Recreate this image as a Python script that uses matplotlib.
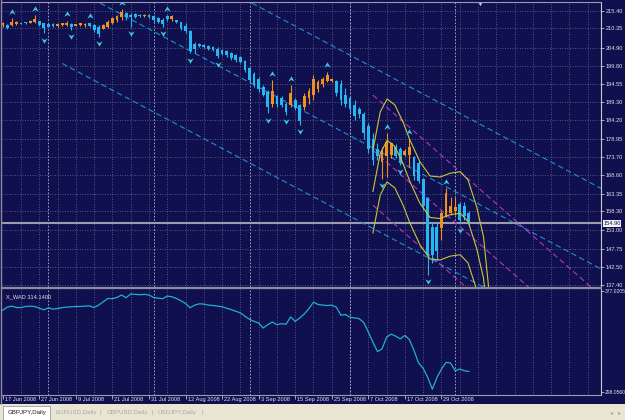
import numpy as np
import matplotlib.pyplot as plt
import matplotlib.transforms as mtransforms
from matplotlib.lines import Line2D
from matplotlib.patches import Rectangle
from matplotlib.path import Path

plt.rcParams['font.family'] = ['Liberation Sans', 'DejaVu Sans']

# GBPJPY daily, bar 0 = 17 Jun 2008
opens = [211.2, 211.4, 211.4, 211.6, 211.9, 212.0, 212.0, 212.3, 212.4, 211.8,
         211.6, 211.6, 211.1, 211.3, 211.4, 211.6, 211.1, 211.2, 211.2, 211.8,
         211.4, 210.8, 210.3, 210.9, 212.0, 212.8, 213.5, 214.8, 214.2, 214.4,
         214.3, 213.9, 214.3, 213.9, 213.4, 212.8, 213.8, 212.9, 212.7, 212.1,
         211.0, 209.5, 206.0, 206.0, 205.6, 205.3, 205.1, 204.6, 204.1, 203.9,
         203.4, 202.8, 202.2, 201.0, 199.0, 197.5, 196.0, 193.8, 192.3, 188.8,
         191.0, 190.6, 189.0, 188.6, 190.0, 188.5, 188.0, 190.5, 191.5, 193.0,
         194.5, 195.5, 195.5, 195.5, 194.5, 191.5, 190.5, 188.5, 187.5, 186.0,
         182.5, 179.0, 176.0, 172.5, 174.0, 174.5, 176.7, 176.0, 174.5, 174.5,
         173.9, 172.0, 167.5, 162.0, 154.0, 154.0, 153.5, 157.0, 158.0, 158.5,
         160.5, 160.0, 158.0]
highs = [212.3, 211.6, 213.2, 212.6, 212.0, 212.3, 212.8, 214.2, 212.6, 212.0,
         211.8, 211.8, 211.8, 212.0, 212.6, 211.8, 211.6, 212.0, 212.0, 212.0,
         211.6, 211.3, 211.6, 212.8, 213.7, 214.2, 215.8, 215.1, 214.6, 214.6,
         214.5, 214.5, 214.5, 214.2, 213.7, 213.2, 214.2, 214.2, 212.8, 212.3,
         211.8, 209.9, 206.6, 206.3, 205.9, 205.6, 205.4, 205.0, 204.4, 204.2,
         203.7, 203.1, 202.5, 201.4, 199.5, 198.0, 196.6, 194.3, 192.8, 195.7,
         191.4, 191.0, 189.5, 194.3, 190.5, 189.0, 191.9, 193.3, 197.1, 195.7,
         196.6, 198.1, 196.4, 195.7, 195.7, 193.3, 191.0, 190.0, 188.1, 186.7,
         183.4, 180.5, 177.7, 176.7, 180.5, 178.0, 177.5, 176.7, 176.0, 179.0,
         174.0, 172.9, 167.7, 162.5, 155.0, 155.0, 158.5, 164.9, 162.5, 162.5,
         161.1, 161.0, 158.5]
lows = [210.9, 210.1, 211.0, 211.3, 211.6, 211.6, 211.8, 212.0, 211.0, 209.0,
        210.7, 210.9, 210.9, 211.0, 211.0, 210.0, 211.0, 211.0, 210.9, 210.9,
        209.4, 208.0, 210.1, 210.4, 211.6, 212.3, 212.8, 212.8, 210.9, 213.2,
        213.7, 213.7, 213.2, 212.3, 211.8, 210.9, 212.6, 212.6, 212.0, 209.9,
        209.0, 203.3, 203.3, 205.2, 204.7, 204.2, 204.0, 201.9, 202.8, 202.3,
        201.4, 200.9, 200.4, 198.1, 195.2, 193.8, 192.4, 191.0, 186.2, 188.1,
        188.1, 188.1, 185.7, 188.1, 187.2, 182.9, 187.2, 189.0, 190.0, 192.4,
        193.8, 195.2, 195.2, 191.0, 188.6, 188.1, 186.2, 184.3, 184.8, 179.0,
        174.8, 171.5, 172.9, 167.5, 168.2, 173.5, 173.5, 171.5, 174.0, 171.0,
        167.3, 166.3, 158.7, 140.2, 143.6, 144.5, 150.2, 156.8, 157.3, 157.3,
        154.9, 156.0, 154.5]
closes = [212.0, 210.6, 212.3, 212.2, 211.7, 211.8, 212.4, 213.0, 211.3, 210.6,
          210.9, 211.1, 211.6, 211.8, 212.0, 210.9, 211.5, 211.8, 211.7, 211.1,
          209.9, 208.8, 211.2, 212.3, 213.2, 213.8, 215.0, 213.5, 213.6, 213.6,
          213.9, 214.3, 213.5, 212.8, 212.2, 211.6, 212.9, 213.8, 212.1, 210.4,
          209.5, 204.0, 204.5, 205.4, 205.0, 204.6, 204.3, 202.5, 203.1, 202.7,
          201.9, 201.3, 200.8, 198.6, 195.8, 194.4, 193.0, 191.5, 188.0, 192.5,
          188.8, 188.6, 186.5, 192.0, 187.8, 184.0, 191.0, 192.5, 196.0, 195.0,
          196.0, 197.0, 196.0, 192.0, 190.0, 189.0, 187.5, 185.5, 186.0, 180.5,
          176.0, 173.0, 174.0, 175.5, 178.2, 177.7, 174.0, 172.0, 175.5, 176.5,
          168.5, 167.0, 160.0, 146.0, 146.0, 147.0, 158.0, 163.5, 160.0, 159.5,
          156.0, 157.0, 154.9]

fractal_up = [2, 7, 14, 19, 26, 36, 59, 63, 71, 84, 89, 97]
fractal_dn = [9, 15, 21, 28, 35, 41, 47, 58, 62, 65, 83, 87, 93, 100]

# X_WAD indicator
wad = [362.0, 364.4, 365.2, 364.1, 364.1, 364.9, 365.2, 364.9, 363.6, 362.3,
       363.9, 362.8, 363.3, 364.1, 364.4, 364.7, 364.9, 364.9, 365.2, 365.4,
       364.1, 366.0, 368.6, 371.2, 371.0, 372.0, 373.9, 371.8, 374.7, 374.4,
       374.1, 374.4, 373.9, 372.0, 371.5, 371.0, 373.1, 372.5, 371.2, 369.4,
       367.3, 363.9, 366.0, 367.0, 366.8, 366.0, 365.7, 365.2, 364.7, 363.6,
       362.5, 361.2, 359.9, 357.3, 354.9, 353.3, 352.0, 348.1, 350.7, 352.8,
       350.7, 351.5, 351.0, 356.8, 353.3, 356.0, 359.1, 363.3, 368.3, 366.5,
       366.0, 365.7, 366.0, 364.4, 358.1, 358.6, 356.5, 356.0, 355.4, 352.3,
       344.9, 337.0, 329.6, 331.8, 341.0, 343.3, 341.7, 339.6, 342.3, 338.9,
       330.4, 320.7, 316.5, 309.4, 300.2, 309.4, 316.0, 321.2, 320.7, 314.6,
       316.0, 314.6, 314.14]

# regression channel (blue) and second channel (magenta): [start bar, end bar]
chan_x = [13, 131]
chan_lo = [200.4, 119.0]
chan_mid = [223.3, 141.9]
chan_hi = [246.2, 164.8]
mag_x = [81, 131]
mag_hi = [191.4, 134.2]
mag_mid = [175.75, 118.55]
mag_lo = [160.1, 102.9]

# polynomial regression bands (yellow), upper curve + fixed step
poly_x = [81.0, 82.6, 84.1, 85.8, 87.6, 89.1, 91.3, 93.5, 95.7, 97.9, 100.1,
          101.8, 103.7, 105.2, 106.3]
poly_hi = [175.8, 186.6, 190.3, 188.6, 183.7, 178.6, 172.4, 168.4, 168.1,
           169.2, 169.6, 167.3, 159.6, 151.1, 136.9]
poly_step = 11.8

price_ticks = [215.40, 210.35, 204.90, 199.80, 194.55, 189.30, 184.20, 178.95,
               173.70, 168.60, 163.35, 158.30, 153.00, 147.75, 142.50, 137.40]
wad_ticks = [377.0205, 298.0560]
date_labels = ['17 Jun 2008', '27 Jun 2008', '9 Jul 2008', '21 Jul 2008',
               '31 Jul 2008', '12 Aug 2008', '22 Aug 2008', '3 Sep 2008',
               '15 Sep 2008', '25 Sep 2008', '7 Oct 2008', '17 Oct 2008',
               '29 Oct 2008']
month_starts = [10, 33, 54, 76, 99]
bid = 154.90
tabs = ['EURUSD,Daily', 'GBPUSD,Daily', 'USDJPY,Daily']

BG = '#10104e'
GRID = '#6c6c98'
TXT = '#e2e2ea'
BULL = '#f0901e'
BEAR = '#26b6f0'
FS = 4.1

W, H = 625, 420
fig = plt.figure(figsize=(6.25, 4.2), dpi=100, facecolor=BG)


def box(x0, y0, x1, y1):
    return [x0 / W, 1 - y1 / H, (x1 - x0) / W, (y1 - y0) / H]


ax = fig.add_axes(box(2, 2, 601, 287), facecolor=BG)
axw = fig.add_axes(box(2, 289, 601, 395), facecolor=BG)
xlim = (-0.15, 130.9)

for a in (ax, axw):
    a.set_xlim(*xlim)
    for b in range(4, 131, 4):
        a.axvline(b, color=GRID, lw=0.6, ls=(0, (1, 2)), zorder=0)
    for b in month_starts:
        a.axvline(b, color='#b8b8cc', lw=0.6, ls=(0, (2, 2)), zorder=0)
    for s in ('left', 'bottom', 'top'):
        a.spines[s].set_visible(False)
    a.spines['right'].set_color('#c8c8d4')
    a.spines['right'].set_linewidth(0.8)
    a.yaxis.tick_right()
    a.tick_params(axis='y', colors=TXT, labelsize=FS, length=2, width=0.5, pad=1.5)

# --- main price pane ---
ax.set_ylim(136.83, 217.87)
ax.spines['top'].set_visible(True)
ax.spines['top'].set_color('#9a9ab0')
ax.spines['top'].set_linewidth(0.8)
ax.set_yticks(price_ticks)
ax.set_yticklabels([f'{v:.2f}' for v in price_ticks])
ax.set_xticks([])
for v in price_ticks:
    ax.axhline(v, color=GRID, lw=0.6, ls=(0, (1, 2)), zorder=0)

ax.axhline(bid, color='#9c9cae', lw=1.5, zorder=1)

o, h, l, c = (np.array(v) for v in (opens, highs, lows, closes))
idx = np.arange(len(c))
up = c >= o
for m, col in ((up, BULL), (~up, BEAR)):
    ax.vlines(idx[m], l[m], h[m], color=col, lw=0.8, zorder=3)
    body = np.maximum(np.abs(c[m] - o[m]), 0.3)
    ax.bar(idx[m], body, bottom=np.minimum(o[m], c[m]), width=0.62, color=col,
           lw=0, zorder=3)

for ys in (chan_lo, chan_mid, chan_hi):
    ax.plot(chan_x, ys, color='#1d8fd0', lw=0.8, ls=(0, (5, 3)), zorder=2)
for ys in (mag_hi, mag_mid, mag_lo):
    ax.plot(mag_x, ys, color='#b434c4', lw=0.8, ls=(0, (5, 3)), zorder=2)
ph = np.array(poly_hi)
for k in range(3):
    ax.plot(poly_x, ph - k * poly_step, color='#c8c838', lw=0.8, zorder=4)

arrow_up = Path([(0, 1), (1, -0.7), (0, -0.15), (-1, -0.7), (0, 1)],
                [Path.MOVETO, Path.LINETO, Path.LINETO, Path.LINETO, Path.CLOSEPOLY])
arrow_dn = Path([(0, -1), (1, 0.7), (0, 0.15), (-1, 0.7), (0, -1)],
                [Path.MOVETO, Path.LINETO, Path.LINETO, Path.LINETO, Path.CLOSEPOLY])
ax.plot(fractal_up, h[fractal_up] + 1.8, ls='none', marker=arrow_up, ms=4.6,
        color='#3cc4d8', mew=0, zorder=5)
ax.plot(fractal_dn, l[fractal_dn] - 1.8, ls='none', marker=arrow_dn, ms=4.6,
        color='#3cc4d8', mew=0, zorder=5)

# chart shift marker
ax.plot([104.4], [217.4], marker='v', ms=2.6, color='#c8c8d8', mew=0, clip_on=False)

# bid price label
tr = mtransforms.blended_transform_factory(ax.transAxes, ax.transData)
ax.text(1.004, bid, f'{bid:.2f}', transform=tr, fontsize=FS, color='#101030',
        va='center', ha='left',
        bbox=dict(boxstyle='square,pad=0.12', fc='#f4f4f8', ec='none'))

# --- X_WAD pane ---
axw.set_ylim(295.7, 378.6)
axw.plot(idx, wad, color='#22aed0', lw=0.9, zorder=3)
axw.set_yticks(wad_ticks)
axw.set_yticklabels([f'{v:.4f}' for v in wad_ticks])
axw.tick_params(axis='y', labelsize=3.6, pad=0.8)
axw.spines['bottom'].set_visible(True)
axw.spines['bottom'].set_color('#9a9ab0')
axw.spines['bottom'].set_linewidth(0.8)
axw.text(0.006, 0.95, f'X_WAD {wad[-1]:.4f}', transform=axw.transAxes,
         fontsize=FS, color=TXT, va='top', ha='left')

axw.set_xticks(range(0, 8 * len(date_labels), 8))
axw.set_xticklabels(date_labels)
axw.tick_params(axis='x', colors=TXT, labelsize=FS, length=3, width=0.5,
                direction='out', pad=-1.5)
shift = mtransforms.ScaledTranslation(2 / 100, 0, fig.dpi_scale_trans)
for lab in axw.get_xticklabels():
    lab.set_horizontalalignment('left')
    lab.set_transform(lab.get_transform() + shift)

# pane separator and left window edge
fig.add_artist(Line2D([2 / W, 601 / W], [1 - 288 / H] * 2, color='#8c8ca2', lw=1.6))
fig.add_artist(Line2D([0.8 / W] * 2, [1 - 404 / H, 1], color='#8a8aa0', lw=1.0))

# --- tab bar ---
tb = fig.add_axes(box(0, 404, 625, 420), facecolor='#e9e5d3')
tb.set_xlim(0, 625)
tb.set_ylim(420, 404)
tb.set_xticks([])
tb.set_yticks([])
for s in tb.spines.values():
    s.set_visible(False)
tb.add_patch(Rectangle((3, 406), 47, 14, fc='white', ec='#9a9a9a', lw=0.6))
tb.text(8, 412.5, 'GBPJPY,Daily', fontsize=FS + 0.3, color='#202020', va='center')
tab_x = [55, 107, 157]
for x, name in zip(tab_x, tabs):
    tb.text(x, 412.5, name, fontsize=FS + 0.3, color='#a8a8a0', va='center')
    tb.text(x + 45, 412.5, '|', fontsize=FS + 0.3, color='#a8a8a0', va='center')
tb.text(610, 412.5, '◂', fontsize=FS, color='#a0a0a0', va='center', family='DejaVu Sans')
tb.text(618, 412.5, '▸', fontsize=FS, color='#a0a0a0', va='center', family='DejaVu Sans')

fig.savefig('out.png', dpi=100, facecolor=BG)
